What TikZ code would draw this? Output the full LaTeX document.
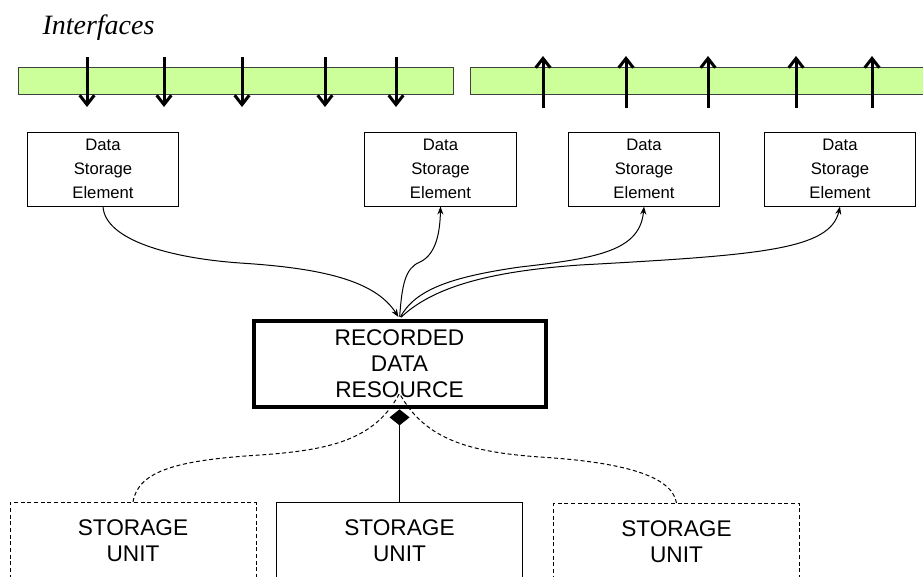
\documentclass[tikz,border=0pt]{standalone}
\usepackage{fontspec}
\setmainfont{Liberation Sans}
\newfontfamily\ifacefont{Liberation Serif}
\usetikzlibrary{arrows.meta}
\tikzset{every picture/.style={line width=0.75pt}}
\definecolor{ifacegreen}{RGB}{204,255,153}
\tikzset{
  ifacebar/.style={draw=black!75, fill=ifacegreen, line width=0.75pt},
  ifacearrow/.style={line width=2.25pt, -{Straight Barb[length=7pt,width=11pt,line width=2.25pt]}},
  dsebox/.style={draw, inner sep=0pt, minimum width=113.5pt, minimum height=55.5pt, align=center, font=\fontsize{12.5}{18}\selectfont},
  unitbox/.style={draw, inner sep=0pt, minimum width=184.5pt, minimum height=57pt, align=center, font=\fontsize{17}{19.5}\selectfont},
  dashedunit/.style={unitbox, dash pattern=on 3pt off 2pt},
  link/.style={-{Stealth[length=6pt,width=4.5pt]}},
}

\begin{document}
\begin{tikzpicture}[x=0.75pt,y=0.75pt,yscale=-1,xscale=1]
\clip (0,0) rectangle (923,576);

% Text Node
\node (ifacelabel) [anchor=base west, inner sep=0pt, font=\ifacefont\itshape\fontsize{21}{24}\selectfont] at (42,34) {Interfaces};

%Shape: Rectangle -- input interfaces
\draw[ifacebar] (18,67) rectangle (453,94);
%Shape: Rectangle -- output interfaces
\draw[ifacebar] (470,67) rectangle (926,94);

%Straight Lines -- inputs
\foreach \x in {87,164,242,325,396}
  \draw[ifacearrow] (\x,57) -- (\x,107);
%Straight Lines -- outputs
\foreach \x in {543,626,708,796,872}
  \draw[ifacearrow] (\x,108) -- (\x,56);

% Data storage elements
\node (dse1) [dsebox] at (103,169) {Data\\Storage\\Element};
\node (dse2) [dsebox] at (440.5,169) {Data\\Storage\\Element};
\node (dse3) [dsebox] at (644,169) {Data\\Storage\\Element};
\node (dse4) [dsebox] at (840,169) {Data\\Storage\\Element};

% Recorded data resource
\node (rdr) [draw, line width=3pt, inner sep=0pt, minimum width=219pt, minimum height=65pt, align=center, font=\fontsize{17}{19.5}\selectfont] at (399.5,364) {RECORDED\\DATA\\RESOURCE};

% Storage units
\node (su1) [dashedunit, anchor=north] at (133,502) {STORAGE\\UNIT};
\node (su2) [unitbox, anchor=north] at (399.5,502) {STORAGE\\UNIT};
\node (su3) [dashedunit, anchor=north] at (676.5,503) {STORAGE\\UNIT};

%Curve Lines -- elements and resource
\draw[link, shorten >=1.5pt] (dse1.south) .. controls (105,240) and (170,258) .. (240,263) .. controls (320,268) and (375,280) .. (rdr.north);
\draw[link, shorten <=1.5pt] (rdr.north) .. controls (402,285) and (405,268) .. (420,262) .. controls (435,255) and (440,235) .. (dse2.south);
\draw[link, shorten <=1.5pt] (rdr.north) .. controls (415,290) and (450,277) .. (520,267) .. controls (600,258) and (640,250) .. (dse3.south);
\draw[link, shorten <=1.5pt] (rdr.north) .. controls (430,290) and (480,272) .. (580,265) .. controls (760,255) and (830,250) .. (dse4.south);

%Straight Lines -- aggregation
\draw[-{Diamond[length=12pt,width=15pt]}] (su2.north) -- (rdr.south);
\coordinate (agg) at ([yshift=-12pt]rdr.south);
%Curve Lines -- dashed units
\draw[dash pattern=on 3pt off 2pt] (su1.north) .. controls (138,470) and (180,460) .. (260,455) .. controls (330,450) and (375,440) .. (agg);
\draw[dash pattern=on 3pt off 2pt] (su3.north) .. controls (672,475) and (620,462) .. (540,457) .. controls (470,452) and (425,440) .. (agg);

\end{tikzpicture}
\end{document}
